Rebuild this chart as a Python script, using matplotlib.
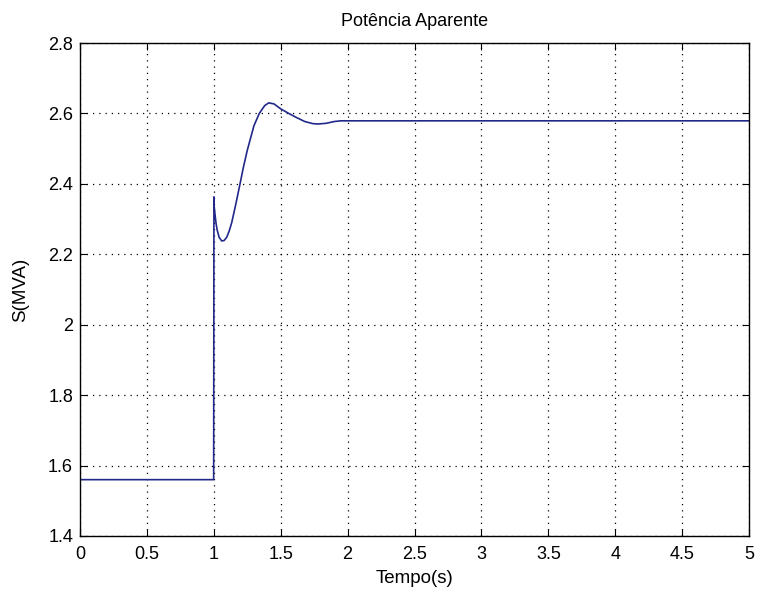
import matplotlib
matplotlib.use('Agg')
from matplotlib import pyplot as plt

# Potência aparente (tempo em s, S em MVA)
tempo = [0.0, 0.999, 1.0, 1.001, 1.003, 1.008, 1.016, 1.025, 1.04, 1.059, 1.077, 1.096,
         1.115, 1.134, 1.166, 1.196, 1.22, 1.25, 1.30, 1.34, 1.38, 1.41, 1.45, 1.50,
         1.56, 1.62, 1.68, 1.74, 1.78, 1.84, 1.90, 1.95, 2.0, 5.0]
potencia = [1.56, 1.56, 1.95, 2.363, 2.335, 2.317, 2.29, 2.269, 2.248, 2.238, 2.239, 2.248,
            2.266, 2.29, 2.345, 2.40, 2.445, 2.495, 2.565, 2.60, 2.622, 2.630, 2.627, 2.613,
            2.60, 2.588, 2.577, 2.571, 2.570, 2.572, 2.577, 2.579, 2.579, 2.579]

xticks = [0, 0.5, 1, 1.5, 2, 2.5, 3, 3.5, 4, 4.5, 5]
yticks = [1.4, 1.6, 1.8, 2.0, 2.2, 2.4, 2.6, 2.8]
yticklabels = ['1.4', '1.6', '1.8', '2', '2.2', '2.4', '2.6', '2.8']

plt.rcParams['font.family'] = ['Liberation Sans', 'DejaVu Sans']

fig = plt.figure(figsize=(7.57, 5.98), dpi=100)
ax = fig.add_axes([80 / 757, 1 - 536 / 598, (749 - 80) / 757, (536 - 43) / 598])

ax.plot(tempo, potencia, color='#22288a', linewidth=1.2)

ax.set_xlim(0, 5)
ax.set_ylim(1.4, 2.8)
ax.set_xticks(xticks)
ax.set_xticklabels([('%g' % v) for v in xticks])
ax.set_yticks(yticks)
ax.set_yticklabels(yticklabels)
ax.tick_params(direction='in', top=True, right=True, length=5, width=0.8,
               labelsize=13, colors='black')
ax.tick_params(axis='x', pad=7)
ax.tick_params(axis='y', pad=5)
ax.grid(True, color='black', linestyle=(0, (1, 4)), linewidth=0.9)
for s in ax.spines.values():
    s.set_linewidth(1.0)

ax.set_title('Potência Aparente', fontsize=13, pad=12)
ax.set_xlabel('Tempo(s)', fontsize=13.5, labelpad=5)
ax.set_ylabel('S(MVA)', fontsize=13.5, labelpad=14)

fig.savefig('out.png', dpi=100)
